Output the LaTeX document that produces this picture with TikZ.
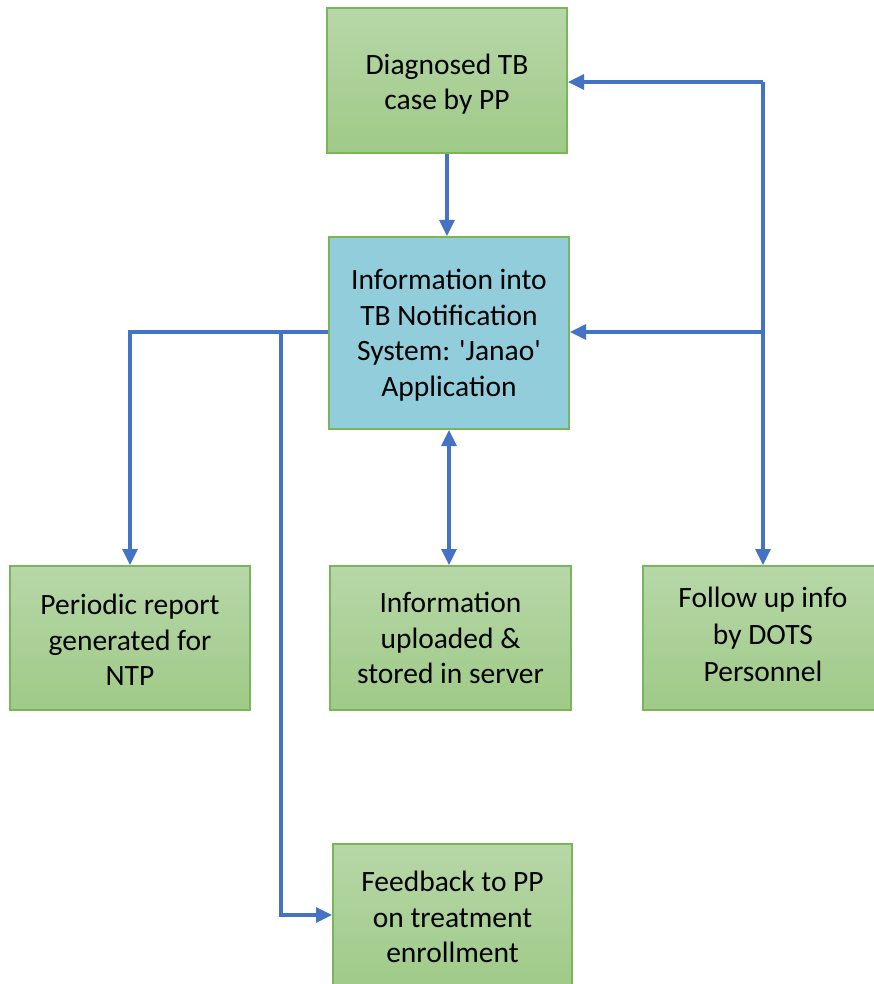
\documentclass[tikz,border=0pt]{standalone}
\usepackage{fontspec}
\setmainfont{Carlito}
\usetikzlibrary{arrows.meta,calc}
\definecolor{lineblue}{HTML}{4472C4}
\definecolor{gtop}{HTML}{B7D7A8}
\definecolor{gbot}{HTML}{9FCA87}
\definecolor{gborder}{HTML}{7AB55C}
\definecolor{bluebox}{HTML}{92CDDC}
\begin{document}
\begin{tikzpicture}[x=1pt,y=-1pt,
  box/.style={draw=gborder, line width=2pt, top color=gtop, bottom color=gbot,
    align=center, inner sep=0pt, font=\fontsize{29.5}{35.5}\selectfont},
  bbox/.style={box, fill=bluebox, top color=bluebox, bottom color=bluebox},
  conn/.style={draw=lineblue, line width=3.2pt},
  arr/.style={conn, -{Triangle[length=16pt,width=15pt]}},
  darr/.style={conn, {Triangle[length=16pt,width=15pt]}-{Triangle[length=16pt,width=15pt]}}]
\useasboundingbox (0,0) rectangle (874,984);
\node[box, minimum width=240, minimum height=145] (box1) at (447,80.5) {\rule{0pt}{28pt}Diagnosed TB\\case by PP};
\node[bbox, minimum width=240, minimum height=192] (box2) at (449,333) {\rule{0pt}{25pt}Information into\\TB Notification\\System: \textquotesingle Janao\textquotesingle\\Application};
\node[box, minimum width=240, minimum height=144] (box3) at (130,638) {\rule{0pt}{24pt}Periodic report\\generated for\\NTP};
\node[box, minimum width=241, minimum height=144] (box4) at (450.5,638) {Information\\uploaded \&\\stored in server};
\node[box, minimum width=232, minimum height=144] (box5) at (759,638) {\hspace*{8pt}Follow up info\\[1.5pt]\hspace*{8pt}by DOTS\\[1.5pt]\hspace*{8pt}Personnel\rule[-8pt]{0pt}{8pt}};
\node[box, minimum width=239, minimum height=146] (box6) at (452.5,917) {Feedback to PP\\on treatment\\enrollment};
\coordinate (jR) at (763,82);
\coordinate (jM) at (763,332);
\coordinate (jL1) at (130,332);
\coordinate (jL2) at (281,332);
\coordinate (jL3) at (281,915);
\draw[arr] (box1.south) -- (box1.south |- box2.north);
\draw[arr] (jR) -- (jR -| box1.east);
\draw[arr] (jM) -- (jM -| box2.east);
\draw[arr] (jR) -- (jR |- box5.north);
\draw[arr] (jM -| box2.west) -- (jL1) -- (jL1 |- box3.north);
\draw[arr] (jL2) -- (jL3) -- (jL3 -| box6.west);
\draw[darr] (box2.south) -- (box2.south |- box4.north);
\end{tikzpicture}
\end{document}
